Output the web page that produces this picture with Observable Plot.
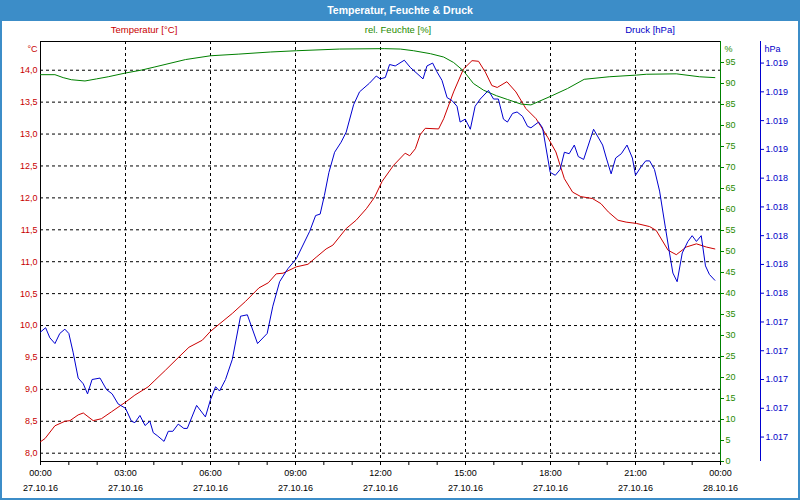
<!DOCTYPE html>
<html>
<head>
<meta charset="utf-8">
<script src="https://cdn.jsdelivr.net/npm/d3@7"></script>
<script src="https://cdn.jsdelivr.net/npm/@observablehq/plot@0.6"></script>
<style>
  html, body { margin: 0; padding: 0; background: #fff; }
  #wrap { position: relative; width: 800px; height: 500px; overflow: hidden; background: #fff;
          font-family: "Liberation Sans", Arial, sans-serif; }
  #titlebar { position: absolute; left: 0; top: 0; width: 800px; height: 21px; background: #3c8dc8;
              color: #fff; font-weight: bold; font-size: 10.5px; line-height: 20px; text-align: center; }
  .bl { position: absolute; background: #3c8dc8; }
  .series { position: absolute; top: 23px; font-size: 9.5px; line-height: 14px; transform: translateX(-50%); white-space: nowrap; }
  .layer { position: absolute; left: 0; top: 0; }
</style>
</head>
<body>
<div id="wrap">
  <div id="titlebar">Temperatur, Feuchte &amp; Druck</div>
  <div class="bl" style="left:0;top:0;width:2px;height:500px"></div>
  <div class="bl" style="left:798px;top:0;width:2px;height:500px"></div>
  <div class="bl" style="left:0;top:498px;width:800px;height:2px"></div>
  <div class="series" style="left:144px;color:#c80000">Temperatur [°C]</div>
  <div class="series" style="left:398px;color:#1e8a00">rel. Feuchte [%]</div>
  <div class="series" style="left:650px;color:#0000c8">Druck [hPa]</div>
</div>
<script>
// ---------------- data ----------------
const tempHours = [0,0.16,0.51,0.86,1.04,1.33,1.51,1.86,2.15,2.51,3.00,3.33,3.80,4.01,4.41,4.89,5.24,5.71,6.00,6.77,7.24,7.71,8.04,8.32,8.56,9.03,9.44,9.73,10.08,10.32,10.79,11.14,11.50,11.79,12.06,12.46,12.87,13.03,13.23,13.40,13.58,14.05,14.23,14.58,14.93,15.23,15.46,15.70,15.93,16.12,16.46,16.78,17.13,17.49,17.90,18.19,18.49,18.78,19.07,19.48,19.78,20.04,20.38,20.67,21.03,21.50,21.73,22.15,22.44,22.79,23.15,23.50,23.80];
const tempValues = [8.18,8.23,8.43,8.50,8.51,8.60,8.63,8.51,8.54,8.65,8.80,8.91,9.04,9.13,9.30,9.51,9.66,9.77,9.91,10.19,10.38,10.59,10.67,10.81,10.82,10.92,10.96,11.07,11.20,11.26,11.52,11.65,11.83,12.01,12.26,12.51,12.70,12.66,12.77,12.99,13.09,13.08,13.24,13.66,14.02,14.15,14.14,13.97,13.76,13.73,13.82,13.66,13.40,13.24,12.95,12.72,12.30,12.09,12.02,11.99,11.91,11.78,11.65,11.62,11.60,11.55,11.49,11.18,11.11,11.23,11.28,11.23,11.20];

const humHours = [0,0.51,0.80,1.09,1.57,1.98,2.39,3.00,3.57,4.01,5.12,6.00,7.00,8.11,9.03,10.55,12.13,12.70,13.17,13.76,14.23,14.58,14.93,15.28,15.64,16.09,16.48,16.96,17.31,18.02,18.60,19.19,20.07,21.03,21.38,22.44,23.26,23.80];
const humValues = [92.1,92.1,91.4,90.9,90.6,91.1,91.6,92.5,93.2,93.9,95.7,96.6,97.0,97.5,97.8,98.2,98.3,98.2,97.8,97.1,96.3,95.0,93.0,90.0,88.4,87.1,86.2,85.1,84.9,87.0,88.8,91.0,91.6,92.0,92.2,92.3,91.6,91.4];

const presHours = [0.00,0.18,0.33,0.51,0.68,0.86,1.00,1.15,1.33,1.51,1.66,1.82,2.10,2.33,2.53,2.74,3.00,3.21,3.33,3.51,3.69,3.86,3.98,4.12,4.36,4.51,4.67,4.86,5.06,5.18,5.51,5.82,6.00,6.18,6.32,6.53,6.77,7.06,7.30,7.66,8.00,8.20,8.44,8.73,9.03,9.50,9.71,9.87,10.02,10.18,10.38,10.61,10.79,11.05,11.26,11.61,11.85,11.99,12.17,12.32,12.52,12.84,13.05,13.50,13.64,13.84,13.99,14.17,14.35,14.52,14.70,14.81,14.99,15.17,15.34,15.52,15.81,15.99,16.16,16.34,16.48,16.66,16.82,17.01,17.19,17.31,17.58,17.72,17.99,18.17,18.34,18.49,18.66,18.84,18.98,19.17,19.52,19.84,19.97,20.14,20.30,20.50,20.70,20.89,21.00,21.20,21.36,21.50,21.67,21.85,22.06,22.20,22.32,22.47,22.65,22.85,23.00,23.15,23.32,23.47,23.61,23.80];
const presValues = [1017.43,1017.46,1017.39,1017.35,1017.42,1017.45,1017.42,1017.29,1017.11,1017.07,1017.00,1017.10,1017.11,1017.03,1017.00,1016.93,1016.90,1016.81,1016.80,1016.85,1016.78,1016.81,1016.73,1016.71,1016.67,1016.74,1016.74,1016.79,1016.76,1016.76,1016.92,1016.84,1016.96,1017.05,1017.02,1017.10,1017.24,1017.54,1017.55,1017.35,1017.42,1017.61,1017.78,1017.87,1017.94,1018.13,1018.24,1018.25,1018.38,1018.54,1018.68,1018.75,1018.82,1019.01,1019.10,1019.16,1019.21,1019.19,1019.20,1019.29,1019.28,1019.32,1019.27,1019.19,1019.28,1019.30,1019.24,1019.18,1019.06,1019.04,1019.00,1018.89,1018.91,1018.84,1019.00,1019.05,1019.11,1019.05,1019.05,1018.91,1018.89,1018.95,1018.96,1018.93,1018.86,1018.85,1018.89,1018.85,1018.54,1018.52,1018.56,1018.68,1018.67,1018.73,1018.65,1018.63,1018.84,1018.73,1018.64,1018.53,1018.64,1018.67,1018.73,1018.64,1018.52,1018.58,1018.62,1018.62,1018.56,1018.41,1018.15,1017.98,1017.84,1017.78,1017.98,1018.06,1018.10,1018.06,1018.10,1017.89,1017.83,1017.79];

// ---------------- ticks & labels ----------------
const xTickHours = [0,3,6,9,12,15,18,21,24];
const xTickTimes = ["00:00","03:00","06:00","09:00","12:00","15:00","18:00","21:00","00:00"];
const xTickDates = ["27.10.16","27.10.16","27.10.16","27.10.16","27.10.16","27.10.16","27.10.16","27.10.16","28.10.16"];
const xMinorHours = [0,1,2,3,4,5,6,7,8,9,10,11,12,13,14,15,16,17,18,19,20,21,22,23,24];
const tempTicks = [8.0,8.5,9.0,9.5,10.0,10.5,11.0,11.5,12.0,12.5,13.0,13.5,14.0];
const tempTickLabels = ["8,0","8,5","9,0","9,5","10,0","10,5","11,0","11,5","12,0","12,5","13,0","13,5","14,0"];
const humTicks = [0,5,10,15,20,25,30,35,40,45,50,55,60,65,70,75,80,85,90,95];
const presTicks = [1016.7,1016.9,1017.1,1017.3,1017.5,1017.7,1017.9,1018.1,1018.3,1018.5,1018.7,1018.9,1019.1,1019.3];
const presTickLabels = ["1.017","1.017","1.017","1.017","1.017","1.018","1.018","1.018","1.018","1.018","1.019","1.019","1.019","1.019"];

const tempDomain = [7.87, 14.45];
const humDomain = [0, 100];
const presDomain = [1016.53, 1019.45];

// ---------------- styling ----------------
const RED = "#c80000", RED_LINE = "#cc0000";
const GREEN_TXT = "#1e8a00", GREEN = "#008000";
const BLUE_TXT = "#0000c8", BLUE = "#0000d0";
const FONT = "'Liberation Sans', Arial, sans-serif";
const DASH = "3,3";

const base = {
  width: 800, height: 500,
  marginTop: 41, marginRight: 80, marginBottom: 39, marginLeft: 40,
  style: {background: "transparent", fontFamily: FONT, fontSize: "9px", overflow: "visible"}
};

const tempData = tempHours.map((h, i) => ({h, v: tempValues[i]}));
const humData = humHours.map((h, i) => ({h, v: humValues[i]}));
const presData = presHours.map((h, i) => ({h, v: presValues[i]}));

const wrap = document.getElementById("wrap");
function addLayer(svg) { svg.classList.add("layer"); svg.style.position = "absolute"; svg.style.left = "0"; svg.style.top = "0"; wrap.appendChild(svg); }

// Layer 1: grid, frame, x axis, temperature
addLayer(Plot.plot({
  ...base,
  x: {domain: [0, 24], label: null},
  y: {domain: tempDomain, label: null},
  marks: [
    Plot.gridY(tempTicks, {stroke: "#000", strokeOpacity: 1, strokeDasharray: DASH}),
    Plot.gridX(xTickHours.slice(1, -1), {stroke: "#000", strokeOpacity: 1, strokeDasharray: DASH}),
    Plot.frame({stroke: "#000"}),
    Plot.axisX(xMinorHours, {tickSize: 4, tickFormat: () => "", stroke: "#000", label: null}),
    Plot.axisX(xTickHours, {tickSize: 0, tickPadding: 4, lineHeight: 1.65, fill: "#000", label: null,
      tickFormat: d => xTickTimes[xTickHours.indexOf(d)] + "\n" + xTickDates[xTickHours.indexOf(d)]}),
    Plot.axisY(tempTicks, {tickSize: 0, tickPadding: 3, fill: RED, label: null,
      tickFormat: d => tempTickLabels[tempTicks.indexOf(d)]}),
    Plot.text(["°C"], {frameAnchor: "top-left", dx: -3, dy: 4, textAnchor: "end", fill: RED}),
    Plot.line(tempData, {x: "h", y: "v", stroke: RED_LINE, strokeWidth: 1})
  ]
}));

// Layer 2: humidity
addLayer(Plot.plot({
  ...base,
  x: {domain: [0, 24], axis: null, label: null},
  y: {domain: humDomain, label: null},
  marks: [
    Plot.ruleX([24], {stroke: GREEN}),
    Plot.axisY(humTicks, {anchor: "right", tickSize: 3, tickPadding: 2, stroke: GREEN, fill: GREEN_TXT, label: null}),
    Plot.text(["%"], {frameAnchor: "top-right", dx: 4, dy: 4, textAnchor: "start", fill: GREEN_TXT}),
    Plot.line(humData, {x: "h", y: "v", stroke: GREEN, strokeWidth: 1})
  ]
}));

// Layer 3: pressure
addLayer(Plot.plot({
  ...base,
  x: {domain: [0, 24], axis: null, label: null},
  y: {domain: presDomain, label: null},
  marks: [
    Plot.ruleX([24], {stroke: BLUE, dx: 40}),
    Plot.axisY(presTicks, {anchor: "right", dx: 40, tickSize: 3, tickPadding: 2, stroke: BLUE, fill: BLUE_TXT, label: null,
      tickFormat: d => presTickLabels[presTicks.indexOf(d)]}),
    Plot.text(["hPa"], {frameAnchor: "top-right", dx: 44, dy: 4, textAnchor: "start", fill: BLUE_TXT}),
    Plot.line(presData, {x: "h", y: "v", stroke: BLUE, strokeWidth: 1})
  ]
}));
</script>
</body>
</html>
